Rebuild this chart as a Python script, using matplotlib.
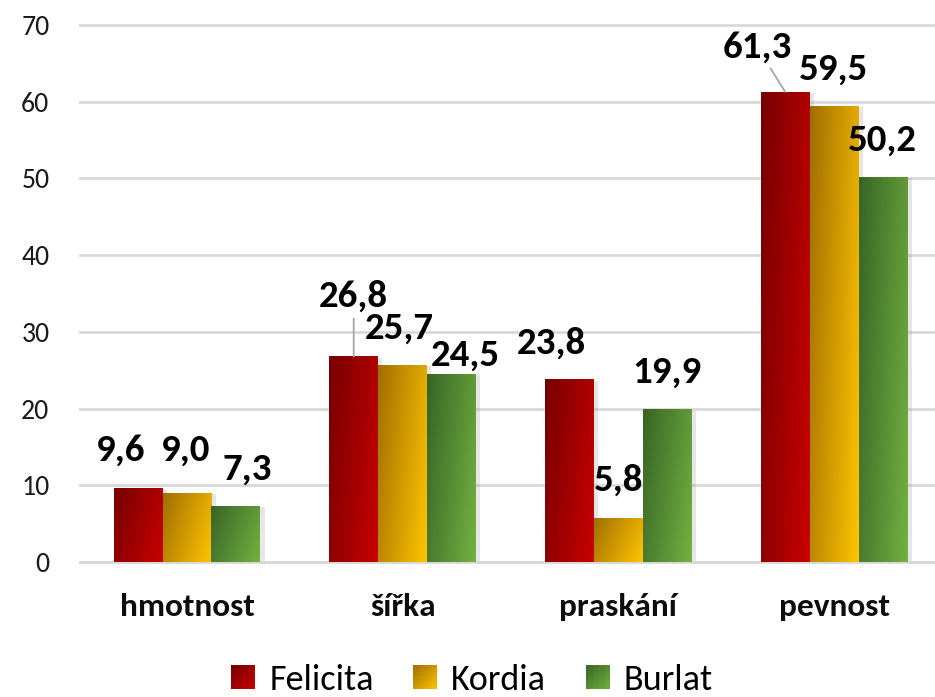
import numpy as np
import matplotlib
matplotlib.use("Agg")
import matplotlib.pyplot as plt
from matplotlib.patches import Rectangle, Patch
from matplotlib.legend_handler import HandlerBase
from matplotlib import patheffects as pe
from matplotlib.colors import to_rgb

# ---------------- data ----------------
categories = ["hmotnost", "šířka", "praskání", "pevnost"]
series = ["Felicita", "Kordia", "Burlat"]
felicita = [9.6, 26.8, 23.8, 61.3]
kordia = [9.0, 25.7, 5.8, 59.5]
burlat = [7.3, 24.5, 19.9, 50.2]
y_ticks = [0, 10, 20, 30, 40, 50, 60, 70]

# label offsets (pixels, label centre relative to bar top centre)
label_offsets = [
    [(-17, 38), (-1, 43), (11, 37)],
    [(0, 60), (-3, 37), (14, 19)],
    [(-18, 36), (0, 37), (0, 37)],
    [(-28, 45), (-1, 36), (-1, 37)],
]
leader = [[False, False, False], [True, False, False],
          [False, False, False], [True, False, False]]

grads = [("#760000", "#c90000"), ("#a06e00", "#ffc400"), ("#386425", "#72b141")]

font = ["Carlito", "Lato", "DejaVu Sans"]
plt.rcParams["font.family"] = font

fig = plt.figure(figsize=(9.35, 6.97), dpi=100)
L, R, B, T = 80 / 935, 1.0, 1 - 562 / 697, 1 - 25 / 697
ax = fig.add_axes([L, B, R - L, T - B])

values = [felicita, kordia, burlat]
x = np.arange(len(categories))
w = 0.227


def grad_image(c0, c1, nx=64, ny=256, wu=0.7):
    c0 = np.array(to_rgb(c0)); c1 = np.array(to_rgb(c1))
    u = np.linspace(0, 1, nx)[None, :]
    r = np.linspace(0, 1, ny)[:, None]
    t = wu * u + (1 - wu) * r
    return c0[None, None, :] * (1 - t[..., None]) + c1[None, None, :] * t[..., None]


for si, vals in enumerate(values):
    bars = ax.bar(x + (si - 1) * w, vals, width=w, color=grads[si][1], zorder=2,
                  linewidth=0)
    for b in bars:
        b.set_path_effects([pe.SimplePatchShadow(offset=(3, -1), shadow_rgbFace="#909090",
                                                 alpha=0.22), pe.Normal()])
        x0, y0 = b.get_x(), b.get_y()
        bw, bh = b.get_width(), b.get_height()
        img = grad_image(grads[si][0], grads[si][1], ny=256, wu=0.7)
        im = ax.imshow(img, extent=(x0, x0 + bw, y0, y0 + bh), origin="upper",
                       aspect="auto", zorder=3, interpolation="bilinear")
        im.set_clip_path(b)

ax.set_xlim(-0.496, 3.468)
ax.set_ylim(0, 70)
ax.set_yticks(y_ticks)
ax.set_yticklabels([str(v) for v in y_ticks], fontsize=20, color="#1a1a1a")
ax.set_xticks(x)
ax.set_xticklabels(categories, fontsize=24, fontweight="bold", color="#0d0d0d")
ax.tick_params(axis="y", length=0, pad=22)
ax.tick_params(axis="x", length=0, pad=22)
for s in ["top", "right", "left"]:
    ax.spines[s].set_visible(False)
ax.spines["bottom"].set_color("#d9d9d9")
ax.spines["bottom"].set_linewidth(2)
ax.yaxis.grid(True, color="#d9d9d9", linewidth=2, zorder=0)
ax.set_axisbelow(True)
for gl in ax.get_ygridlines():
    gl.set_clip_on(False)

# data labels
for ci in range(len(categories)):
    for si, vals in enumerate(values):
        v = vals[ci]
        xc = x[ci] + (si - 1) * w
        dx, dy = label_offsets[ci][si]
        txt = f"{v:.1f}".replace(".", ",")
        kw = {}
        if leader[ci][si]:
            kw["arrowprops"] = dict(arrowstyle="-", color="#a6a6a6", lw=1.3,
                                    shrinkA=2, shrinkB=0)
        ax.annotate(txt, xy=(xc, v), xytext=(dx, dy), textcoords="offset pixels",
                    ha="center", va="center", fontsize=28, fontweight="bold",
                    color="black", zorder=5, annotation_clip=False, **kw)


class GradHandler(HandlerBase):
    def create_artists(self, legend, orig_handle, xdescent, ydescent, width, height,
                       fontsize, trans):
        c0, c1 = orig_handle.grad
        s = height
        x0 = -xdescent + (width - s) / 2
        y0 = -ydescent + (height - s) / 2
        n = 10
        arts = []
        c0a = np.array(to_rgb(c0)); c1a = np.array(to_rgb(c1))
        for i in range(n):
            for j in range(n):
                t = ((i + 0.5) / n + (n - j - 0.5) / n) / 2
                col = c0a * (1 - t) + c1a * t
                arts.append(Rectangle((x0 + i * s / n, y0 + j * s / n), s / n * 1.05,
                                      s / n * 1.05, facecolor=col, edgecolor="none",
                                      transform=trans))
        return arts


handles = []
for si, name in enumerate(series):
    p = Patch(facecolor=grads[si][1], label=name)
    p.grad = grads[si]
    handles.append(p)

fig.legend(handles=handles, labels=series, loc="center",
           bbox_to_anchor=(0.505, 1 - 680 / 697), ncol=3, frameon=False,
           fontsize=26, handlelength=0.65, handleheight=0.65, handletextpad=0.4,
           columnspacing=1.1, handler_map={Patch: GradHandler()})

fig.savefig("out.png", dpi=100)
